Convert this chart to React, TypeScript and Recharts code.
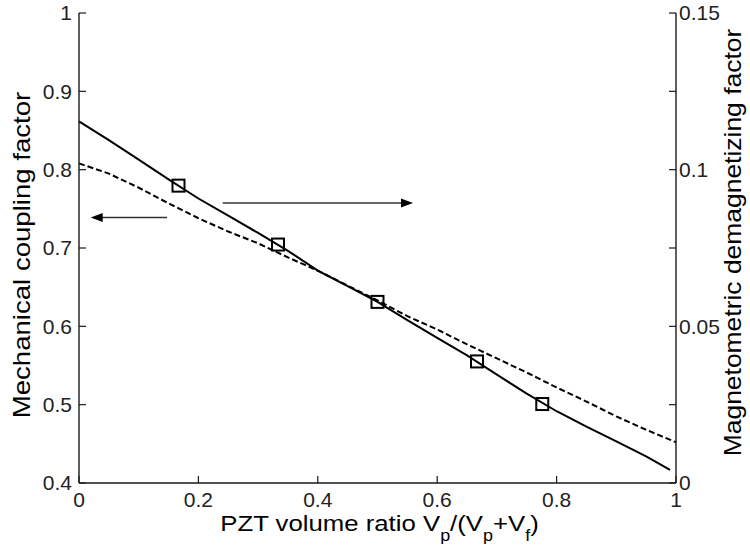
import React from 'react';
import { ComposedChart, Line, XAxis, YAxis, ReferenceLine } from 'recharts';

// x-axis ticks
const X_TICKS = [0, 0.2, 0.4, 0.6, 0.8, 1];
const LEFT_TICKS = [0.4, 0.5, 0.6, 0.7, 0.8, 0.9, 1];
const RIGHT_TICKS = [0, 0.025, 0.05, 0.075, 0.1, 0.125, 0.15];
const RIGHT_LABELED = [0, 0.05, 0.1, 0.15];

// Magnetometric demagnetizing factor (solid, right axis)
const SOLID_X = [0, 0.05, 0.1, 0.15, 0.2, 0.25, 0.3, 0.35, 0.4, 0.45, 0.5, 0.55, 0.6, 0.65, 0.7, 0.75, 0.8, 0.85, 0.9, 0.95, 0.99];
const SOLID_V = [0.1154, 0.1094, 0.1032, 0.0969, 0.0908, 0.0853, 0.0798, 0.0741, 0.0678, 0.0628, 0.0578, 0.052, 0.0463, 0.0407, 0.0346, 0.0285, 0.0229, 0.018, 0.0133, 0.0085, 0.0042];

// Square markers (right axis)
const SQUARE_X = [1 / 6, 1 / 3, 0.5, 2 / 3, 0.776];
const SQUARE_V = [0.0949, 0.0761, 0.0578, 0.0388, 0.0252];

// Mechanical coupling factor (dashed, left axis)
const DASHED_X = [0, 0.05, 0.1, 0.15, 0.2, 0.25, 0.3, 0.35, 0.4, 0.45, 0.5, 0.55, 0.6, 0.65, 0.7, 0.75, 0.8, 0.85, 0.9, 0.95, 1];
const DASHED_V = [0.808, 0.795, 0.777, 0.757, 0.738, 0.721, 0.706, 0.688, 0.671, 0.652, 0.633, 0.613, 0.596, 0.577, 0.559, 0.541, 0.522, 0.504, 0.485, 0.468, 0.452];

// Annotation arrows (left-axis coords): [tailX, tipX, y]
const ARROW_LEFT = [0.1474, 0.0196, 0.739];
const ARROW_RIGHT = [0.2407, 0.5595, 0.7574];

const solidData = SOLID_X.map((x, i) => ({ x, v: SOLID_V[i] }));
const squareData = SQUARE_X.map((x, i) => ({ x, v: SQUARE_V[i] }));
const dashedData = DASHED_X.map((x, i) => ({ x, v: DASHED_V[i] }));

const FONT = '"Liberation Sans", Arial, Helvetica, sans-serif';
const AX = '#1a1a1a';
const tickStyle = { fontSize: 21, fill: '#222', fontFamily: FONT };

const SquareDot = (props: any) => {
  const { cx, cy } = props;
  if (cx == null || cy == null) return null;
  return <rect x={cx - 6} y={cy - 6} width={12} height={12} fill="none" stroke="#000" strokeWidth={2} />;
};

const Arrow = (props: any) => {
  const { x1, y1, x2, y2 } = props;
  if (x1 == null) return null;
  const dir = x2 > x1 ? 1 : -1;
  const L = 12;
  const H = 4.5;
  return (
    <g>
      <line x1={x1} y1={y1} x2={x2 - dir * L * 0.6} y2={y2} stroke="#333" strokeWidth={1.4} />
      <polygon points={`${x2},${y2} ${x2 - dir * L},${y2 - H} ${x2 - dir * L},${y2 + H}`} fill="#000" />
    </g>
  );
};

export default function App() {
  return (
    <div style={{ width: 750, height: 552 }}>
      <style>{'body{margin:0}'}</style>
      <div style={{ position: 'relative', width: 750, height: 552 }}>
        <ComposedChart width={750} height={552} margin={{ top: 13, right: 0, bottom: 0, left: 0 }}>
          <XAxis
            xAxisId="b"
            dataKey="x"
            type="number"
            domain={[0, 1]}
            ticks={X_TICKS}
            interval={0}
            height={69}
            tickSize={-7}
            tickMargin={16}
            tick={tickStyle}
            tickFormatter={(v: number) => String(v)}
            axisLine={{ stroke: AX, strokeWidth: 1.4 }}
            tickLine={{ stroke: AX, strokeWidth: 1.2 }}
          />
          <XAxis
            xAxisId="t"
            orientation="top"
            dataKey="x"
            type="number"
            domain={[0, 1]}
            ticks={X_TICKS}
            interval={0}
            height={0}
            tickSize={-7}
            tickFormatter={() => ''}
            axisLine={{ stroke: AX, strokeWidth: 1.4 }}
            tickLine={{ stroke: AX, strokeWidth: 1.2 }}
          />
          <YAxis
            yAxisId="L"
            type="number"
            domain={[0.4, 1]}
            ticks={LEFT_TICKS}
            interval={0}
            width={79}
            tickSize={-7}
            tickMargin={14}
            tick={tickStyle}
            tickFormatter={(v: number) => String(v)}
            axisLine={{ stroke: AX, strokeWidth: 1.4 }}
            tickLine={{ stroke: AX, strokeWidth: 1.2 }}
          />
          <YAxis
            yAxisId="R"
            orientation="right"
            type="number"
            domain={[0, 0.15]}
            ticks={RIGHT_TICKS}
            interval={0}
            width={74}
            tickSize={-7}
            tickMargin={10}
            tick={tickStyle}
            tickFormatter={(v: number) => (RIGHT_LABELED.some((t) => Math.abs(t - v) < 1e-9) ? String(v) : '')}
            axisLine={{ stroke: AX, strokeWidth: 1.4 }}
            tickLine={{ stroke: AX, strokeWidth: 1.2 }}
          />
          <Line
            xAxisId="b"
            yAxisId="L"
            data={dashedData}
            dataKey="v"
            type="linear"
            stroke="#000"
            strokeWidth={2}
            strokeDasharray="6 3"
            dot={false}
            isAnimationActive={false}
          />
          <Line
            xAxisId="b"
            yAxisId="R"
            data={solidData}
            dataKey="v"
            type="linear"
            stroke="#000"
            strokeWidth={2}
            dot={false}
            isAnimationActive={false}
          />
          <Line
            xAxisId="b"
            yAxisId="R"
            data={squareData}
            dataKey="v"
            type="linear"
            stroke="none"
            dot={<SquareDot />}
            isAnimationActive={false}
          />
          <ReferenceLine
            xAxisId="b"
            yAxisId="L"
            segment={[{ x: ARROW_LEFT[0], y: ARROW_LEFT[2] }, { x: ARROW_LEFT[1], y: ARROW_LEFT[2] }]}
            shape={<Arrow />}
          />
          <ReferenceLine
            xAxisId="b"
            yAxisId="L"
            segment={[{ x: ARROW_RIGHT[0], y: ARROW_RIGHT[2] }, { x: ARROW_RIGHT[1], y: ARROW_RIGHT[2] }]}
            shape={<Arrow />}
          />
        </ComposedChart>
        <svg width={750} height={552} style={{ position: 'absolute', left: 0, top: 0, pointerEvents: 'none' }}>
          <g transform="translate(24,255) rotate(-90) scale(1.2,1)">
            <text textAnchor="middle" dy="0.28em" fontSize={23} fontFamily={FONT} fill="#000">
              Mechanical coupling factor
            </text>
          </g>
          <g transform="translate(735,242.5) rotate(-90) scale(1.15,1)">
            <text textAnchor="middle" dy="0.28em" fontSize={23} fontFamily={FONT} fill="#000">
              Magnetometric demagnetizing factor
            </text>
          </g>
          <g transform="translate(379.5,531) scale(1.12,1)">
            <text textAnchor="middle" fontSize={23} fontFamily={FONT} fill="#000">
              PZT volume ratio V<tspan fontSize={16} dy={10}>p</tspan>
              <tspan dy={-10}>/(V</tspan>
              <tspan fontSize={16} dy={10}>p</tspan>
              <tspan dy={-10}>+V</tspan>
              <tspan fontSize={16} dy={10}>f</tspan>
              <tspan dy={-10}>)</tspan>
            </text>
          </g>
        </svg>
      </div>
    </div>
  );
}
